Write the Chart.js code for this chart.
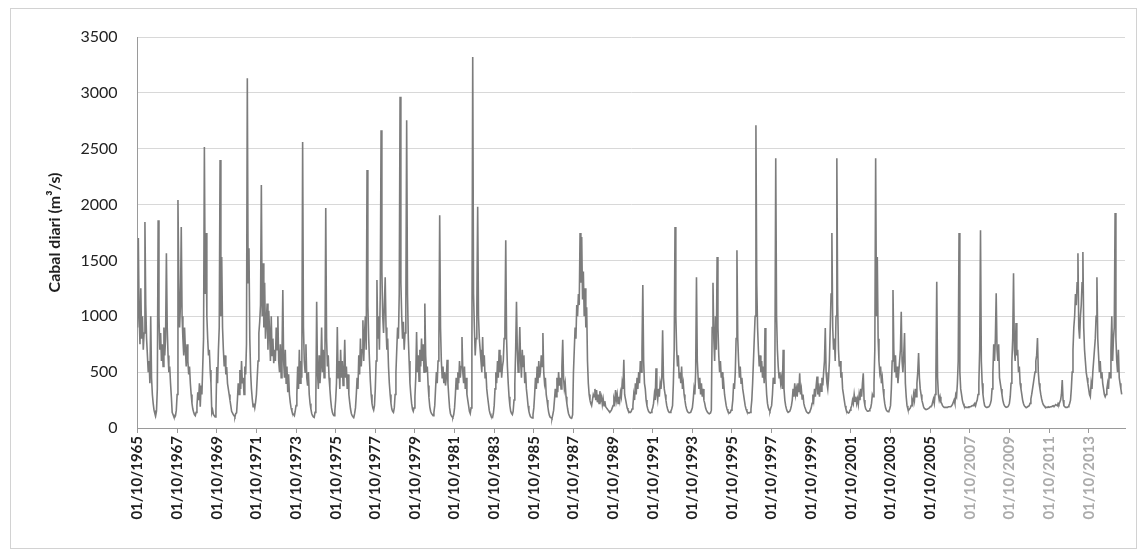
<!DOCTYPE html>
<html>
<head>
<meta charset="utf-8">
<script src="https://cdn.jsdelivr.net/npm/chart.js@4/dist/chart.umd.min.js"></script>
<style>
html,body{margin:0;padding:0;background:#fff;}
canvas{display:block;}
</style>
</head>
<body>
<canvas id="c" width="1139" height="556"></canvas>
<script>
// Tick labels (hydrological years start 1 October)
const tickLabels = ["01/10/1965","01/10/1967","01/10/1969","01/10/1971","01/10/1973","01/10/1975","01/10/1977","01/10/1979","01/10/1981","01/10/1983","01/10/1985","01/10/1987","01/10/1989","01/10/1991","01/10/1993","01/10/1995","01/10/1997","01/10/1999","01/10/2001","01/10/2003","01/10/2005","01/10/2007","01/10/2009","01/10/2011","01/10/2013"];
const yTicks = [0,500,1000,1500,2000,2500,3000,3500];
const slotsPerYear = 24; // half-monthly readings from 1 October of each year

// Daily discharge (m3/s), one sub-array per hydrological year
const flows1965_1974 = [
 [900,1700,1000,750,1250,800,1000,700,850,1845,1100,800,650,500,600,400,1000,450,300,220,160,130,110,150],
 [350,1860,1000,700,850,600,750,550,900,650,800,1565,900,650,500,550,400,280,140,120,100,95,110,160],
 [300,2040,1300,900,1100,1800,1000,800,650,900,700,550,750,600,480,550,400,300,220,170,140,120,110,140],
 [200,320,250,400,190,380,300,550,800,2515,1200,1745,1000,800,650,700,520,400,135,160,120,110,100,150],
 [545,400,700,900,2400,1000,1530,900,700,550,650,480,545,400,350,300,250,200,150,135,120,110,100,130],
 [135,250,400,300,520,350,600,400,450,300,550,480,750,3130,1300,1610,800,500,350,260,190,220,180,230],
 [300,450,600,850,950,1100,2175,1000,1475,900,1300,800,950,1115,700,1050,850,600,1000,650,800,580,700,600],
 [900,700,1000,600,500,750,450,650,1235,600,450,700,400,550,320,480,300,230,180,150,130,120,110,150],
 [200,300,550,350,700,400,600,450,2560,900,600,500,750,450,380,500,300,220,170,130,110,100,95,140],
 [250,1130,500,350,650,400,550,900,500,700,450,600,1970,800,550,650,450,350,250,180,140,120,110,150]
];
const flows1975_1984 = [
 [250,400,905,450,600,350,700,450,600,380,500,790,450,550,350,480,300,230,170,130,110,100,95,130],
 [180,300,450,350,650,480,800,550,700,965,600,850,1000,700,2310,1100,800,600,420,300,220,180,160,200],
 [350,600,1325,800,1000,700,1200,2665,1400,1000,850,1100,1350,900,700,800,550,400,300,220,170,150,140,180],
 [300,500,700,900,800,1200,2965,1300,1000,800,950,700,850,1100,2755,1200,800,600,400,300,220,170,150,180],
 [280,450,860,500,650,420,700,550,800,600,750,500,1115,650,500,550,380,270,190,150,130,120,110,140],
 [200,350,500,400,600,750,1905,900,600,450,550,400,500,380,450,610,400,280,180,130,110,100,95,120],
 [180,300,450,350,500,400,600,450,550,815,500,400,550,350,450,300,250,200,150,130,180,700,3320,1200],
 [900,650,800,1100,1980,1000,800,700,600,500,815,550,650,450,500,350,280,220,160,130,110,100,95,130],
 [200,350,500,400,600,450,700,500,650,450,550,600,800,900,1680,800,550,400,280,200,150,130,120,150],
 [250,400,700,1130,700,500,650,905,600,450,700,550,650,400,500,350,280,200,150,120,100,95,90,120]
];
const flows1985_1994 = [
 [180,300,450,350,550,400,600,450,500,650,550,850,500,400,450,300,250,190,140,110,95,90,85,120],
 [160,250,350,280,450,320,500,380,450,350,550,790,450,350,400,280,220,170,130,110,95,90,90,120],
 [500,700,900,800,1100,1000,1200,1100,1745,1300,1710,1150,1400,1000,1250,900,1080,600,400,300,250,220,200,250],
 [300,280,350,250,340,230,300,220,330,250,280,210,260,200,240,190,180,170,160,150,140,150,160,180],
 [200,260,230,340,250,300,220,280,240,320,280,400,350,610,300,260,220,180,160,150,140,140,150,170],
 [200,300,250,400,300,450,350,500,400,600,500,700,1280,600,400,350,250,200,170,150,140,135,140,160],
 [180,220,300,250,535,300,250,350,280,400,350,450,875,450,350,300,250,200,170,150,140,140,150,170],
 [200,400,700,1800,1000,700,550,650,450,500,400,550,350,400,300,250,200,170,150,140,135,135,140,160],
 [180,250,350,300,500,1350,600,450,350,450,300,400,280,350,250,220,180,160,145,135,130,130,135,160],
 [900,1300,800,600,1000,700,1530,900,650,500,600,450,500,350,400,300,250,200,170,150,140,135,140,160]
];
const flows1995_2004 = [
 [180,250,400,350,500,800,1590,800,600,450,550,400,450,350,300,250,200,170,150,140,135,135,140,170],
 [250,400,600,800,1000,2710,1300,900,700,550,650,500,600,450,550,400,895,450,300,220,180,160,150,180],
 [200,300,450,400,600,2415,1000,700,550,450,500,400,450,350,700,350,250,200,170,150,140,140,150,170],
 [200,250,350,280,400,300,350,280,400,320,490,300,350,260,300,220,190,170,150,140,135,135,140,160],
 [180,220,300,250,350,280,380,460,300,350,280,400,330,450,380,500,600,895,500,400,350,450,600,900],
 [1200,1745,900,700,800,600,1000,2415,1100,700,550,600,450,500,350,300,250,200,170,150,140,135,140,160],
 [180,200,250,220,300,240,280,220,260,210,300,250,350,280,400,490,250,200,170,160,150,150,155,170],
 [180,220,300,280,400,700,2415,1000,1530,800,600,500,550,400,450,350,280,220,180,160,150,145,150,170],
 [200,350,600,1235,700,500,650,450,550,400,500,600,700,1040,600,500,650,850,400,280,200,170,160,170],
 [180,200,250,220,300,250,350,280,400,500,670,450,350,300,250,220,190,175,170,165,165,170,175,180]
];
const flows2005_2014 = [
 [190,195,200,230,260,220,300,500,1310,450,300,250,280,230,220,200,190,185,185,185,185,185,190,190],
 [190,190,200,210,230,250,220,300,280,400,600,1745,500,350,300,250,220,200,190,185,185,185,185,190],
 [190,190,195,200,200,210,220,200,230,250,300,400,700,1770,600,400,300,240,200,190,185,185,185,190],
 [200,220,250,350,500,750,600,800,1205,700,600,750,450,400,350,300,250,220,200,190,185,185,190,200],
 [220,280,400,600,800,1385,700,600,940,650,700,500,550,400,350,300,250,220,200,190,185,185,190,195],
 [200,220,260,300,350,400,450,500,600,650,805,500,400,350,300,260,230,210,200,190,185,185,185,190],
 [185,185,190,190,195,200,195,200,210,205,200,220,210,230,250,300,430,250,200,190,185,185,185,190],
 [200,220,250,350,500,700,900,1000,1200,1100,1300,1565,900,800,1000,1100,1300,1575,900,700,600,500,450,400],
 [350,300,280,400,350,500,600,700,800,1000,1350,800,650,500,600,450,500,400,350,300,280,300,350,400],
 [350,500,450,700,1000,600,800,900,1925,800,600,500,700,450,400,350,300]
];

const decades = [flows1965_1974, flows1975_1984, flows1985_1994, flows1995_2004, flows2005_2014];
const points = [];
decades.forEach((dec, d) => dec.forEach((yr, j) => yr.forEach((v, s) => {
  points.push({x: (d * 10 + j) * slotsPerYear + s, y: v});
})));

const frame = {
  id: 'frame',
  beforeDraw(chart) {
    const c = chart.ctx;
    c.save();
    c.fillStyle = '#fff';
    c.fillRect(0, 0, chart.width, chart.height);
    c.strokeStyle = '#d2d2d2';
    c.lineWidth = 1;
    c.strokeRect(10.5, 8.5, 1126, 540);
    c.restore();
  }
};

new Chart(document.getElementById('c'), {
  type: 'line',
  data: {
    datasets: [{
      data: points,
      borderColor: '#7c7c7c',
      borderWidth: 1.6,
      pointRadius: 0,
      tension: 0,
      fill: false
    }]
  },
  options: {
    responsive: false,
    animation: false,
    devicePixelRatio: 1,
    parsing: false,
    normalized: true,
    layout: {padding: {left: 41, top: 37, right: 14, bottom: 20}},
    plugins: {legend: {display: false}, tooltip: {enabled: false}},
    scales: {
      x: {
        type: 'linear',
        min: 0,
        max: 1196,
        afterBuildTicks: (scale) => {
          scale.ticks = tickLabels.map((t, i) => ({value: i * 2 * slotsPerYear}));
        },
        afterFit: (scale) => { scale.height = 108; },
        ticks: {
          autoSkip: false,
          minRotation: 90,
          maxRotation: 90,
          padding: 3,
          font: {family: 'Lato', size: 15, weight: 'bold'},
          color: (ctx) => ctx.index >= 21 ? '#ababab' : '#1e1e1e',
          callback: (v, i) => tickLabels[i]
        },
        grid: {drawOnChartArea: false, drawTicks: true, tickLength: 5, color: '#9a9a9a'},
        border: {color: '#9a9a9a', width: 1}
      },
      y: {
        min: 0,
        max: 3500,
        afterBuildTicks: (scale) => {
          scale.ticks = yTicks.map(v => ({value: v}));
        },
        afterFit: (scale) => { scale.width = 96.5; },
        ticks: {
          padding: 20,
          font: {family: 'Lato', size: 16},
          color: '#222',
          callback: (v) => String(v)
        },
        grid: {color: '#d8d8d8', drawTicks: false},
        border: {color: '#9a9a9a', width: 1},
        title: {
          display: true,
          text: 'Cabal diari (m\u00b3/s)',
          font: {family: 'Lato', size: 16, weight: 'bold'},
          color: '#1e1e1e',
          padding: {top: 4, bottom: 4}
        }
      }
    }
  },
  plugins: [frame]
});
</script>
</body>
</html>
